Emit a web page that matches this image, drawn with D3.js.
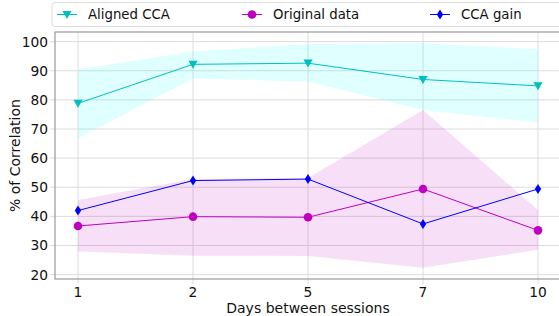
<!DOCTYPE html>
<html>
<head>
<meta charset="utf-8">
<script src="https://cdn.jsdelivr.net/npm/d3@7"></script>
<style>
body { margin: 0; background: #fff; }
text { font-family: "DejaVu Sans", sans-serif; fill: #111; }
</style>
</head>
<body>
<div id="chart-area"></div>
<script>
// data
var days = ["1", "2", "5", "7", "10"];
var alignedMean = [78.8, 92.2, 92.6, 87.0, 84.8];
var alignedLow  = [66.8, 87.3, 86.3, 76.5, 72.2];
var alignedHigh = [90.5, 96.6, 99.2, 99.4, 97.4];
var originalMean = [36.7, 39.9, 39.7, 49.4, 35.2];
var originalLow  = [27.9, 26.5, 26.4, 22.4, 28.5];
var originalHigh = [45.6, 52.8, 53.2, 76.5, 42.2];
var gainMean = [42.0, 52.3, 52.8, 37.4, 49.4];
var yTicks = [20, 30, 40, 50, 60, 70, 80, 90, 100];

var W = 559, H = 316;
var margin = {left:55, top:32, right:-2, bottom:37},
	width = W - margin.left - margin.right,
	height = H - margin.top - margin.bottom;

var svg = d3.select("#chart-area")
	.append("svg")
		.attr("width", W)
		.attr("height", H);

var g = svg.append("g")
	.attr("transform", "translate(" + margin.left + "," + margin.top + ")");

//scales
var x = d3.scaleLinear().domain([-0.2, 4.2]).range([0, width]);
var y = d3.scaleLinear().domain([18.5, 103.3]).range([height, 0]);

//grid
g.append("g").selectAll("line").data(yTicks).enter().append("line")
	.attr("x1", -5).attr("x2", width)
	.attr("y1", d => y(d)).attr("y2", d => y(d))
	.attr("stroke", "#dcdcdc").attr("stroke-width", 1);
g.append("g").selectAll("line").data(days).enter().append("line")
	.attr("x1", (d, i) => x(i)).attr("x2", (d, i) => x(i))
	.attr("y1", 0).attr("y2", height + 5)
	.attr("stroke", "#dcdcdc").attr("stroke-width", 1);

//bands
var area = d3.area()
	.x((d, i) => x(i))
	.y0(d => y(d[0]))
	.y1(d => y(d[1]));

g.append("path")
	.attr("d", area(alignedLow.map((v, i) => [v, alignedHigh[i]])))
	.attr("fill", "#00ffff").attr("fill-opacity", 0.12);
g.append("path")
	.attr("d", area(originalLow.map((v, i) => [v, originalHigh[i]])))
	.attr("fill", "#bf00bf").attr("fill-opacity", 0.12);

//lines
var line = d3.line()
	.x((d, i) => x(i))
	.y(d => y(d));

var series = [
	{name:"Aligned CCA", values:alignedMean, color:"#00bfbf", sym:"tri"},
	{name:"Original data", values:originalMean, color:"#bf00bf", sym:"circle"},
	{name:"CCA gain", values:gainMean, color:"#0000ff", sym:"diamond"}
];

function marker(sel, sym, color) {
	if (sym == "tri") {
		sel.append("path").attr("d", "M-4.6,-3.6L4.6,-3.6L0,4.4z").attr("fill", color);
	} else if (sym == "circle") {
		sel.append("circle").attr("r", 4.3).attr("fill", color);
	} else {
		sel.append("path").attr("d", "M0,-5L3.2,0L0,5L-3.2,0z").attr("fill", color);
	}
}

series.forEach(s => {
	g.append("path")
		.attr("d", line(s.values))
		.attr("fill", "none")
		.attr("stroke", s.color)
		.attr("stroke-width", 1);
	s.values.forEach((v, i) => {
		var m = g.append("g").attr("transform", "translate(" + x(i) + "," + y(v) + ")");
		marker(m, s.sym, s.color);
	});
});

//spines
g.append("rect")
	.attr("x", 0).attr("y", 0)
	.attr("width", width).attr("height", height)
	.attr("fill", "none").attr("stroke", "#999").attr("stroke-width", 1.2);

//tick labels
g.append("g").selectAll("text").data(yTicks).enter().append("text")
	.attr("x", -7).attr("y", d => y(d))
	.attr("dy", "0.36em")
	.attr("text-anchor", "end")
	.style("font-size", "13.8px")
	.text(d => d);
g.append("g").selectAll("text").data(days).enter().append("text")
	.attr("x", (d, i) => x(i)).attr("y", height + 18)
	.attr("text-anchor", "middle")
	.style("font-size", "13.8px")
	.text(d => d);

//axis titles
g.append("text")
	.attr("x", 308 - margin.left).attr("y", height + 34)
	.attr("text-anchor", "middle")
	.style("font-size", "14px")
	.text("Days between sessions");
svg.append("text")
	.attr("transform", "translate(20," + (margin.top + height / 2) + ") rotate(-90)")
	.attr("text-anchor", "middle")
	.style("font-size", "14px")
	.text("% of Correlation");

//legend
var legend = svg.append("g");
legend.append("rect")
	.attr("x", 52).attr("y", 2.5)
	.attr("width", 520).attr("height", 24)
	.attr("rx", 3)
	.attr("fill", "#fff").attr("stroke", "#ddd");
var legendX = [57, 242, 430];
series.forEach((s, i) => {
	var lg = legend.append("g").attr("transform", "translate(" + legendX[i] + ",14.5)");
	lg.append("line").attr("x1", 0).attr("x2", 20)
		.attr("stroke", s.color).attr("stroke-width", 1);
	var m = lg.append("g").attr("transform", "translate(10,0)");
	marker(m, s.sym, s.color);
	lg.append("text")
		.attr("x", 31).attr("dy", "0.36em")
		.style("font-size", "13.3px")
		.text(s.name);
});
</script>
</body>
</html>
